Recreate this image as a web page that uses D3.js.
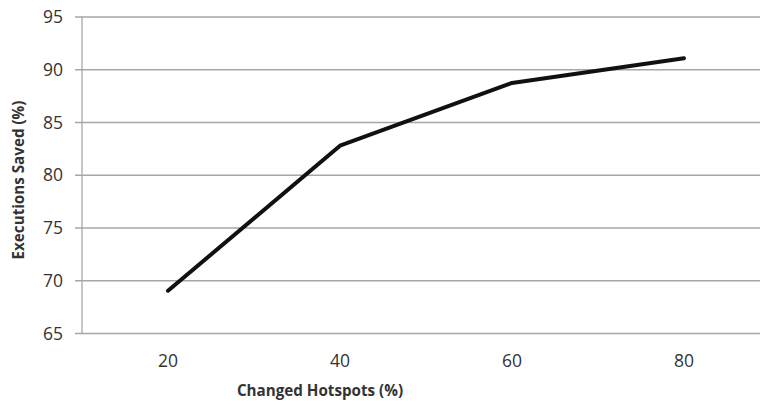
<!DOCTYPE html>
<html>
<head>
<meta charset="utf-8">
<script src="https://cdn.jsdelivr.net/npm/d3@7"></script>
<style>
body { margin: 0; background: #fff; }
svg text { font-family: "Open Sans", sans-serif; fill: #333; }
</style>
</head>
<body>
<div id="chart"></div>
<script>
const categories = ["20", "40", "60", "80"]
const saved = [69.0, 82.75, 88.7, 91.05]
const yTicks = [65, 70, 75, 80, 85, 90, 95]

const margin = {top: 16.5, right: -10, bottom: 72, left: 82}
const W = 760, H = 405
const width = W - margin.left - margin.right
const height = H - margin.top - margin.bottom

const svg = d3.select("#chart").append("svg")
    .attr("width", W)
    .attr("height", H)
const g = svg.append("g")
    .attr("transform", "translate(" + margin.left + "," + margin.top + ")")

const x = d3.scaleBand().domain(categories).range([0, width])
const y = d3.scaleLinear().domain([65, 95]).range([height, 0])

// gridlines + y ticks
g.append("g")
    .call(d3.axisLeft(y).tickValues(yTicks).tickSize(-width - 7).tickPadding(19).tickFormat(d3.format("d")))
    .call(a => a.select(".domain").remove())
    .call(a => a.selectAll(".tick line").attr("x1", -7).attr("x2", width).attr("stroke", "#a6a6a6").attr("stroke-width", 1.3))
    .call(a => a.selectAll("text").attr("font-size", 17.5).attr("dy", "0.35em").attr("fill", "#333"))

// y axis line
g.append("line")
    .attr("x1", 0).attr("x2", 0).attr("y1", 0).attr("y2", height)
    .attr("stroke", "#a6a6a6").attr("stroke-width", 1.3)

// x labels
g.append("g")
    .attr("transform", "translate(0," + height + ")")
    .call(d3.axisBottom(x).tickSize(0).tickPadding(22))
    .call(a => a.select(".domain").remove())
    .call(a => a.selectAll("text").attr("font-size", 17.5).attr("fill", "#333"))

const line = d3.line()
    .x((d, i) => x(categories[i]) + x.bandwidth() / 2)
    .y(d => y(d))

g.append("path")
    .datum(saved)
    .attr("fill", "none")
    .attr("stroke", "#111")
    .attr("stroke-width", 4)
    .attr("stroke-linejoin", "round")
    .attr("stroke-linecap", "round")
    .attr("d", line)

svg.append("text")
    .attr("x", 320).attr("y", 396)
    .attr("text-anchor", "middle")
    .attr("font-size", 15.2).attr("font-weight", "bold")
    .text("Changed Hotspots (%)")

svg.append("text")
    .attr("transform", "translate(24,180) rotate(-90)")
    .attr("text-anchor", "middle")
    .attr("font-size", 15.2).attr("font-weight", "bold")
    .text("Executions Saved (%)")
</script>
</body>
</html>
